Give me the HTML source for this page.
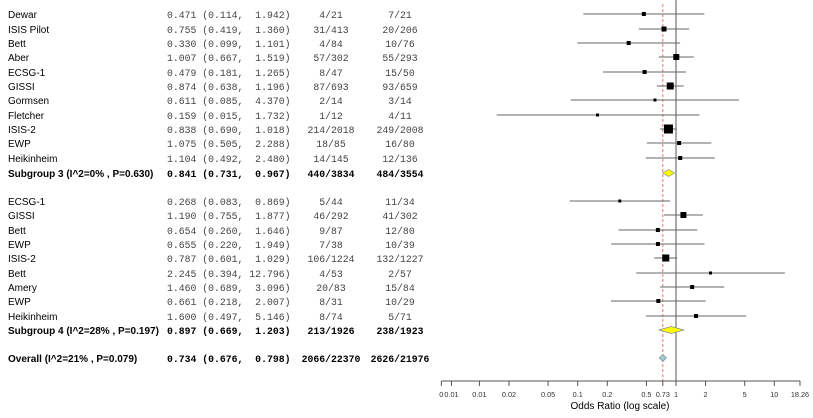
<!DOCTYPE html>
<html><head><meta charset="utf-8"><style>
body{margin:0;background:#fff;width:813px;height:413px;overflow:hidden}
svg text{font-family:"Liberation Sans",sans-serif}
.m{font-family:"Liberation Mono",monospace;font-size:9.8px;fill:#444;white-space:pre}
.n{font-size:10px;fill:#000}
.b{font-weight:bold;fill:#000}
</style></head><body>
<svg id="c" width="813" height="413"></svg>
<script>
const names=["Dewar","ISIS Pilot","Bett","Aber","ECSG-1","GISSI","Gormsen","Fletcher","ISIS-2","EWP","Heikinheim","Subgroup 3 (I^2=0% , P=0.630)","ECSG-1","GISSI","Bett","EWP","ISIS-2","Bett","Amery","EWP","Heikinheim","Subgroup 4 (I^2=28% , P=0.197)","Overall (I^2=21% , P=0.079)"];
const rowY=[14,29,43,57,72,86,100,115,129,143,158,173,201,215,230,244,258,273,287,301,316,330,358];
const kind=["s","s","s","s","s","s","s","s","s","s","s","sub","s","s","s","s","s","s","s","s","s","sub","all"];
const orv=[0.471,0.755,0.330,1.007,0.479,0.874,0.611,0.159,0.838,1.075,1.104,0.841,0.268,1.190,0.654,0.655,0.787,2.245,1.460,0.661,1.600,0.897,0.734];
const lo=[0.114,0.419,0.099,0.667,0.181,0.638,0.085,0.015,0.690,0.505,0.492,0.731,0.083,0.755,0.260,0.220,0.601,0.394,0.689,0.218,0.497,0.669,0.676];
const hi=[1.942,1.360,1.101,1.519,1.265,1.196,4.370,1.732,1.018,2.288,2.480,0.967,0.869,1.877,1.646,1.949,1.029,12.796,3.096,2.007,5.146,1.203,0.798];
const ev1=["4/21","31/413","4/84","57/302","8/47","87/693","2/14","1/12","214/2018","18/85","14/145","440/3834","5/44","46/292","9/87","7/38","106/1224","4/53","20/83","8/31","8/74","213/1926","2066/22370"];
const ev2=["7/21","20/206","10/76","55/293","15/50","93/659","3/14","4/11","249/2008","16/80","12/136","484/3554","11/34","41/302","12/80","10/39","132/1227","2/57","15/84","10/29","5/71","238/1923","2626/21976"];
const sq=[4,5,4,6,4,7,3,3,9,4,4,0,3,6,4,4,7,3,4,4,4,0,0];
const tickVals=[0.0041,0.0052,0.01,0.02,0.05,0.1,0.2,0.5,0.734,1,2,5,10,18.26];
const tickLabels=["0","0.01","0.01","0.02","0.05","0.1","0.2","0.5","0.73","1","2","5","10","18.26"];
const S=document.getElementById('c'),NS='http://www.w3.org/2000/svg';
function X(v){return 676+98.3*Math.log10(v);}
function el(t,a,txt){const e=document.createElementNS(NS,t);for(const k in a)e.setAttribute(k,a[k]);if(txt!==undefined)e.textContent=txt;S.appendChild(e);return e;}
let e;
e=el('line',{x1:X(1),x2:X(1),y1:0,y2:381,stroke:'#555','stroke-width':1});


e=el('line',{x1:X(0.734),x2:X(0.734),y1:4,y2:381,stroke:'#e77','stroke-width':1,'stroke-dasharray':'3,2'});


names.forEach((n,i)=>{
 const y=rowY[i],bold=kind[i]!=="s";
 e=el('text',{x:8,y:y+4,class:'n'+(bold?' b':'')},n);
 
 
 const hs=hi[i].toFixed(3);
 const txt=orv[i].toFixed(3)+" ("+lo[i].toFixed(3)+", "+" ".repeat(6-hs.length)+hs+")";
 e=el('text',{x:167,y:y+4,class:'m'+(bold?' b':'')},txt);
 
 
 e=el('text',{x:331,y:y+4,class:'m'+(bold?' b':''),'text-anchor':'middle'},ev1[i]);
 
 
 e=el('text',{x:400,y:y+4,class:'m'+(bold?' b':''),'text-anchor':'middle'},ev2[i]);
 
 
 const cx=X(orv[i]),l=X(lo[i]),h=X(hi[i]);
 if(kind[i]==="s"){
  e=el('line',{x1:l,x2:h,y1:y,y2:y,stroke:'#666','stroke-width':1});
  
  
  const s=sq[i];
  e=el('rect',{x:cx-s/2,y:y-s/2,width:s,height:s,fill:'#000'});
  
  
 }else{
  const fill=kind[i]==="sub"?'#ff0':'#9cd';
  e=el('polygon',{points:`${l},${y} ${cx},${y-3.5} ${h},${y} ${cx},${y+3.5}`,fill:fill,stroke:'#888','stroke-width':0.7});
  
  
 }
});
e=el('line',{x1:X(tickVals[0]),x2:X(18.26),y1:381,y2:381,stroke:'#555'});


tickVals.forEach((v,i)=>{
 e=el('line',{x1:X(v),x2:X(v),y1:381,y2:386,stroke:'#555'});
 
 
 e=el('text',{x:X(v),y:397,'font-size':'7.3','text-anchor':'middle',fill:'#333'},tickLabels[i]);
 
 
});
e=el('text',{x:620,y:409,'font-size':'10','text-anchor':'middle',fill:'#000'},'Odds Ratio (log scale)');


</script>
</body></html>
